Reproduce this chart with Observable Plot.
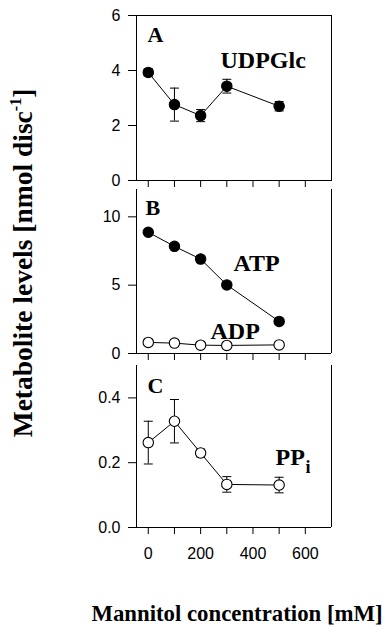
<!DOCTYPE html>
<html>
<head>
<meta charset="utf-8">
<script src="https://cdn.jsdelivr.net/npm/d3@7"></script>
<script src="https://cdn.jsdelivr.net/npm/@observablehq/plot@0.6"></script>
<style>
  html, body { margin: 0; padding: 0; background: #fff; }
  #wrap { position: relative; width: 391px; height: 633px; overflow: hidden; background: #fff; }
  #wrap > .panel { position: absolute; left: 0; }
  #wrap svg { background: transparent !important; }
  .ttl { position: absolute; font-family: "Liberation Serif", "Times New Roman", serif; font-weight: bold; color: #000; white-space: nowrap; }
  #ylab { left: 23px; top: 263px; font-size: 27.5px; transform: translate(-50%, -50%) rotate(-90deg); }
  #ylab sup { font-size: 16px; vertical-align: 0; position: relative; top: -11px; }
  #xlab { left: 237px; top: 601px; font-size: 22.8px; transform: translateX(-50%); }
</style>
</head>
<body>
<div id="wrap">
  <div class="ttl" id="ylab">Metabolite levels [nmol disc<sup>-1</sup>]</div>
  <div class="ttl" id="xlab">Mannitol concentration [mM]</div>
</div>
<script>
// ---- data ----
const mannitol = [0, 100, 200, 300, 500];
const udpglc = [3.93, 2.76, 2.36, 3.43, 2.70];
const udpglcErr = [0.13, 0.60, 0.22, 0.25, 0.17];
const atp = [8.87, 7.84, 6.91, 5.02, 2.35];
const atpErr = [0.15, 0.15, 0.25, 0.15, 0.15];
const adp = [0.81, 0.76, 0.61, 0.59, 0.63];
const ppi = [0.262, 0.328, 0.230, 0.133, 0.131];
const ppiErr = [0.066, 0.067, 0.012, 0.024, 0.024];

const xDomain = [-45, 700];
const xTicks = [0, 100, 200, 300, 400, 500, 600];
const yTicksA = [0, 2, 4, 6];
const yTicksB = [0, 5, 10];
const yTicksC = [0.0, 0.2, 0.4];
const yDomainA = [0, 6];
const yDomainB = [0, 12];
const yDomainC = [0, 0.5];

const rows = (ys, es) => mannitol.map((x, i) => ({x, y: ys[i], e: es ? es[i] : 0}));

const cap = { draw(ctx) { ctx.moveTo(-4.5, 0); ctx.lineTo(4.5, 0); } };

const serif = "Liberation Serif, Times New Roman, serif";
const sans = "Liberation Sans, Arial, Helvetica, sans-serif";

function label(text, dx, dy, size) {
  return Plot.text([text], {
    frameAnchor: "top-left", dx, dy, text: d => d,
    textAnchor: "start", lineAnchor: "bottom",
    fontFamily: serif, fontWeight: "bold", fontSize: size, fill: "black"
  });
}

function series(data, filled, withErr) {
  const marks = [];
  if (withErr) {
    marks.push(Plot.ruleX(data, {x: "x", y1: d => d.y - d.e, y2: d => d.y + d.e, stroke: "black", strokeWidth: 1}));
    marks.push(Plot.dot(data, {x: "x", y: d => d.y + d.e, symbol: cap, stroke: "black", strokeWidth: 1, fill: "none", r: 4}));
    marks.push(Plot.dot(data, {x: "x", y: d => d.y - d.e, symbol: cap, stroke: "black", strokeWidth: 1, fill: "none", r: 4}));
  }
  marks.push(Plot.line(data, {x: "x", y: "y", stroke: "black", strokeWidth: 1}));
  marks.push(Plot.dot(data, {x: "x", y: "y", r: 5.2, fill: filled ? "black" : "white", stroke: "black", strokeWidth: 1.1}));
  return marks;
}

function panel({top, height, marginTop, marginBottom, yDomain, yTicks, yFormat, showX, marks, fullFrame}) {
  const svg = Plot.plot({
    width: 391, height,
    marginLeft: 136, marginRight: 60, marginTop, marginBottom,
    style: {background: "transparent", color: "black", fontFamily: sans, fontSize: "16px", overflow: "visible"},
    x: {domain: xDomain, ticks: xTicks, tickSize: 7, tickPadding: 13,
        tickFormat: showX ? (d => (d % 200 === 0 ? String(d) : "")) : (() => ""), label: null},
    y: {domain: yDomain, ticks: yTicks, tickSize: 8, tickPadding: 8, tickFormat: yFormat, label: null},
    marks: [
      ...(fullFrame ? [Plot.frame({stroke: "black", strokeWidth: 1})]
                    : [Plot.ruleX(xDomain, {stroke: "black", strokeWidth: 1}), Plot.ruleY([0], {stroke: "black", strokeWidth: 1})]),
      ...marks
    ]
  });
  const div = document.createElement("div");
  div.className = "panel";
  div.style.top = top + "px";
  div.appendChild(svg);
  document.getElementById("wrap").appendChild(div);
}

// Panel A
panel({
  top: 0, height: 200, marginTop: 15, marginBottom: 20,
  yDomain: yDomainA, yTicks: yTicksA, yFormat: d3.format("d"), showX: false, fullFrame: true,
  marks: [
    ...series(rows(udpglc, udpglcErr), true, true),
    label("A", 11, 26, 22),
    label("UDPGlc", 84, 52, 24)
  ]
});

// Panel B
panel({
  top: 170, height: 200, marginTop: 19, marginBottom: 17,
  yDomain: yDomainB, yTicks: yTicksB, yFormat: d3.format("d"), showX: false, fullFrame: false,
  marks: [
    ...series(rows(atp, atpErr), true, true),
    ...series(rows(adp), false, false),
    label("B", 9, 25, 22),
    label("ATP", 97, 81, 24),
    label("ADP", 74, 149, 24)
  ]
});

// Panel C
panel({
  top: 345, height: 220, marginTop: 20, marginBottom: 38,
  yDomain: yDomainC, yTicks: yTicksC, yFormat: d3.format(".1f"), showX: true, fullFrame: false,
  marks: [
    ...series(rows(ppi, ppiErr), false, true),
    label("C", 11, 27, 22),
    label("PP", 139, 99, 24),
    label("i", 169, 107, 18)
  ]
});
</script>
</body>
</html>
